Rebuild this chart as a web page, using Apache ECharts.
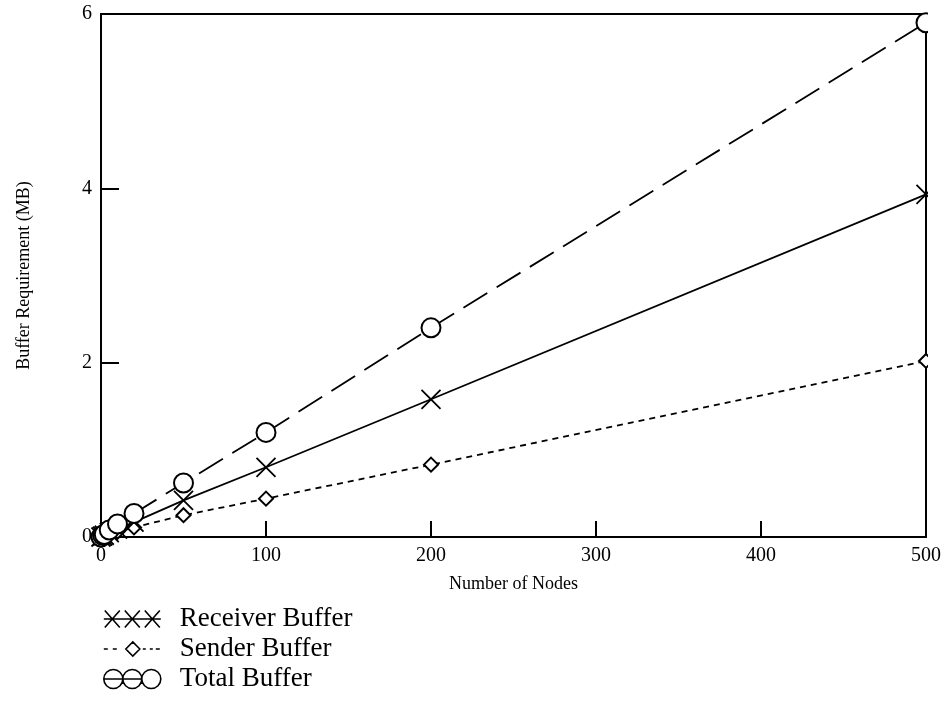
<!DOCTYPE html>
<html>
<head>
<meta charset="utf-8">
<script src="https://cdn.jsdelivr.net/npm/echarts@6/dist/echarts.min.js"></script>
<style>
  html, body { margin: 0; padding: 0; background: #fff; }
  #chart-container { width: 952px; height: 702px; }
</style>
</head>
<body>
<div id="chart-container"></div>
<script>
// values
const nodes = [0, 1, 2, 5, 10, 20, 50, 100, 200, 500]
const receiverBuffer = [0, 0.01, 0.02, 0.05, 0.09, 0.17, 0.42, 0.8, 1.58, 3.93]
const senderBuffer = [0, 0.01, 0.01, 0.03, 0.06, 0.11, 0.25, 0.44, 0.83, 2.02]
const totalBuffer = [0, 0.02, 0.03, 0.08, 0.15, 0.27, 0.62, 1.2, 2.4, 5.9]
const seriesNames = ['Receiver Buffer', 'Sender Buffer', 'Total Buffer']
const xTicks = [0, 100, 200, 300, 400, 500]
const yTicks = [0, 2, 4, 6]

const font = 'Liberation Serif'
const xMark = 'path://M0,0L10,10M10,0L0,10'

// legend glyphs: "XXX", "- -<>- - -", "OOO"
const legendIcons = [
  'path://M1,1L16,18M16,1L1,18M21,1L36,18M36,1L21,18M41,1L56,18M56,1L41,18M0,9.5L57,9.5M0,0L0,0M57,19L57,19',
  'path://M0,9.5L4,9.5M9,9.5L13,9.5M22,9.5L29,2.5L36,9.5L29,16.5ZM39,9.5L42,9.5M46,9.5L49,9.5M52,9.5L56,9.5M57,0L57,0M57,19L57,19',
  'path://M0,9.5A9.5,9.5 0 1,1 19,9.5A9.5,9.5 0 1,1 0,9.5ZM19,9.5A9.5,9.5 0 1,1 38,9.5A9.5,9.5 0 1,1 19,9.5ZM38,9.5A9.5,9.5 0 1,1 57,9.5A9.5,9.5 0 1,1 38,9.5ZM0,9.5L38,9.5'
]

const pairs = (ys) => nodes.map((x, i) => [x, ys[i]])

const chart = echarts.init(document.getElementById('chart-container'))
const option = {
  animation: false,
  backgroundColor: '#fff',
  textStyle: { fontFamily: font, color: '#000' },
  grid: {
    left: 101, right: 26, top: 14, bottom: 165,
    show: true, borderColor: '#000', borderWidth: 2
  },
  legend: {
    orient: 'vertical',
    left: 98,
    top: 599,
    itemWidth: 57,
    itemHeight: 19,
    itemGap: 0,
    textStyle: { fontFamily: font, fontSize: 27, lineHeight: 30, color: '#000', padding: [0, 0, 0, 14] },
    data: seriesNames.map((name, i) => ({
      name: name,
      icon: legendIcons[i],
      itemStyle: { color: 'transparent', borderColor: '#000', borderWidth: 1.6 }
    }))
  },
  graphic: [{
    // hides the part of the end markers that falls outside the frame
    type: 'rect',
    right: 0,
    top: 0,
    shape: { width: 24, height: 538 },
    style: { fill: '#fff' },
    z: 100
  }],
  xAxis: {
    type: 'value',
    min: xTicks[0],
    max: xTicks[xTicks.length - 1],
    interval: 100,
    name: 'Number of Nodes',
    nameLocation: 'middle',
    nameGap: 38,
    nameTextStyle: { fontFamily: font, fontSize: 18, color: '#000' },
    axisLine: { show: true, lineStyle: { color: '#000', width: 2 } },
    axisTick: { show: true, inside: true, length: 16, lineStyle: { color: '#000', width: 2 } },
    axisLabel: { fontFamily: font, fontSize: 20, color: '#000', margin: 9 },
    splitLine: { show: false }
  },
  yAxis: {
    type: 'value',
    min: yTicks[0],
    max: yTicks[yTicks.length - 1],
    interval: 2,
    name: 'Buffer Requirement (MB)',
    nameLocation: 'middle',
    nameGap: 68,
    nameTextStyle: { fontFamily: font, fontSize: 18, color: '#000' },
    axisLine: { show: true, lineStyle: { color: '#000', width: 2 } },
    axisTick: { show: true, inside: true, length: 18, lineStyle: { color: '#000', width: 2 } },
    axisLabel: { fontFamily: font, fontSize: 20, color: '#000', margin: 9 },
    splitLine: { show: false }
  },
  series: [{
    name: seriesNames[0],
    type: 'line',
    data: pairs(receiverBuffer),
    symbol: xMark,
    symbolSize: 19,
    itemStyle: { color: 'transparent', borderColor: '#000', borderWidth: 1.8 },
    lineStyle: { color: '#000', width: 1.8, type: 'solid' },
    z: 3
  }, {
    name: seriesNames[1],
    type: 'line',
    data: pairs(senderBuffer),
    symbol: 'emptyDiamond',
    symbolSize: 14,
    itemStyle: { color: '#000', borderColor: '#000', borderWidth: 1.8 },
    lineStyle: { color: '#000', width: 1.8, type: [6, 5] },
    z: 2
  }, {
    name: seriesNames[2],
    type: 'line',
    data: pairs(totalBuffer),
    symbol: 'emptyCircle',
    symbolSize: 19,
    itemStyle: { color: '#000', borderColor: '#000', borderWidth: 1.8 },
    lineStyle: { color: '#000', width: 1.8, type: [28, 11] },
    z: 4
  }]
}
chart.setOption(option)
</script>
</body>
</html>
